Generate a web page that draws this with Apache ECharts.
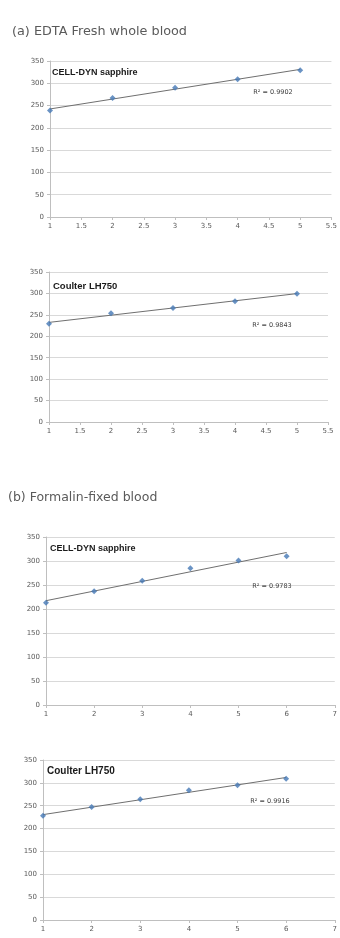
<!DOCTYPE html>
<html>
<head>
<meta charset="utf-8">
<script src="https://cdn.jsdelivr.net/npm/echarts@6/dist/echarts.min.js"></script>
<style>
  html, body { margin: 0; padding: 0; background: #fff; }
  #main { width: 340px; height: 938px; }
</style>
</head>
<body>
<div id="main"></div>
<script>
// values
const xA = [1, 2, 3, 4, 5];
const cellDynA = [239, 267, 290, 309, 329];
const coulterA = [229, 254, 266, 282, 299];
const xB = [1, 2, 3, 4, 5, 6];
const cellDynB = [213, 237, 259, 285, 301, 310];
const coulterB = [228, 247, 264, 284, 295, 309];
const panelNames = ['CELL-DYN sapphire', 'Coulter LH750', 'CELL-DYN sapphire', 'Coulter LH750'];
const r2Labels = ['R² = 0.9902', 'R² = 0.9843', 'R² = 0.9783', 'R² = 0.9916'];

// least squares trend, like the excel linear trendline
function trend(xs, ys) {
  let n = xs.length, mx = 0, my = 0;
  xs.forEach((x, i) => { mx += x; my += ys[i]; });
  mx /= n; my /= n;
  let sxy = 0, sxx = 0;
  xs.forEach((x, i) => { sxy += (x - mx) * (ys[i] - my); sxx += (x - mx) * (x - mx); });
  let b = sxy / sxx, a = my - b * mx;
  return [[xs[0], a + b * xs[0]], [xs[n - 1], a + b * xs[n - 1]]];
}

const grids = [
  {left: 50, top: 61, width: 282, height: 156},
  {left: 49, top: 272, width: 279, height: 150},
  {left: 46, top: 537, width: 295, height: 168},
  {left: 43, top: 760, width: 298, height: 160}
];
const xMax = [5.5, 5.5, 7, 7];
const xInt = [0.5, 0.5, 1, 1];
const panels = [[xA, cellDynA], [xA, coulterA], [xB, cellDynB], [xB, coulterB]];

const axisLabel = {fontSize: 7, color: '#595959', fontFamily: 'DejaVu Sans'};

let option = {
  animation: false,
  backgroundColor: '#fff',
  grid: grids.map(g => Object.assign({containLabel: false}, g)),
  xAxis: grids.map((g, i) => ({
    gridIndex: i, type: 'value', min: 1, max: xMax[i], interval: xInt[i],
    axisLine: {show: true, onZero: false, lineStyle: {color: '#bfbfbf', width: 1}},
    axisTick: {show: true, length: 3, lineStyle: {color: '#bfbfbf'}},
    splitLine: {show: false},
    axisLabel: Object.assign({margin: 6}, axisLabel)
  })),
  yAxis: grids.map((g, i) => ({
    gridIndex: i, type: 'value', min: 0, max: 350, interval: 50,
    axisLine: {show: true, lineStyle: {color: '#bfbfbf', width: 1}},
    axisTick: {show: true, length: 3, lineStyle: {color: '#bfbfbf'}},
    splitLine: {show: true, lineStyle: {color: '#d9d9d9', width: 1}},
    axisLabel: Object.assign({margin: 6}, axisLabel)
  })),
  series: [],
  graphic: []
};

panels.forEach((p, i) => {
  option.series.push({
    type: 'line', xAxisIndex: i, yAxisIndex: i,
    data: trend(p[0], p[1]), showSymbol: false, symbol: 'none',
    lineStyle: {color: '#6f6f6f', width: 1}, z: 2
  });
  option.series.push({
    type: 'scatter', xAxisIndex: i, yAxisIndex: i,
    data: p[0].map((x, k) => [x, p[1][k]]),
    symbol: 'diamond', symbolSize: 6,
    itemStyle: {color: '#4578b5'}, z: 3
  });
});

// in-plot labels
const nameAt = [[52, 73], [53, 286], [50, 549], [47, 771]];
const nameSize = [9, 9.5, 9, 10];
const r2At = [[273, 92], [272, 325], [272, 586], [270, 801]];
nameAt.forEach((pos, i) => {
  option.graphic.push({
    type: 'text', x: pos[0], y: pos[1],
    style: {text: panelNames[i], fontSize: nameSize[i], fontWeight: 'bold', fill: '#1a1a1a',
      fontFamily: 'Liberation Sans', textVerticalAlign: 'middle'}
  });
});
r2At.forEach((pos, i) => {
  option.graphic.push({
    type: 'text', x: pos[0], y: pos[1], z: 10,
    style: {text: r2Labels[i], fontSize: 6.5, fill: '#404040', fontFamily: 'DejaVu Sans',
      textAlign: 'center', textVerticalAlign: 'middle'}
  });
});
// section headings
option.graphic.push({
  type: 'text', x: 12, y: 32,
  style: {text: '(a) EDTA Fresh whole blood', fontSize: 12.8, fill: '#5a5a5a',
    fontFamily: 'DejaVu Sans', textVerticalAlign: 'middle'}
});
option.graphic.push({
  type: 'text', x: 8, y: 498,
  style: {text: '(b) Formalin-fixed blood', fontSize: 12.5, fill: '#5a5a5a',
    fontFamily: 'DejaVu Sans', textVerticalAlign: 'middle'}
});

var chart = echarts.init(document.getElementById('main'));
chart.setOption(option);
</script>
</body>
</html>
